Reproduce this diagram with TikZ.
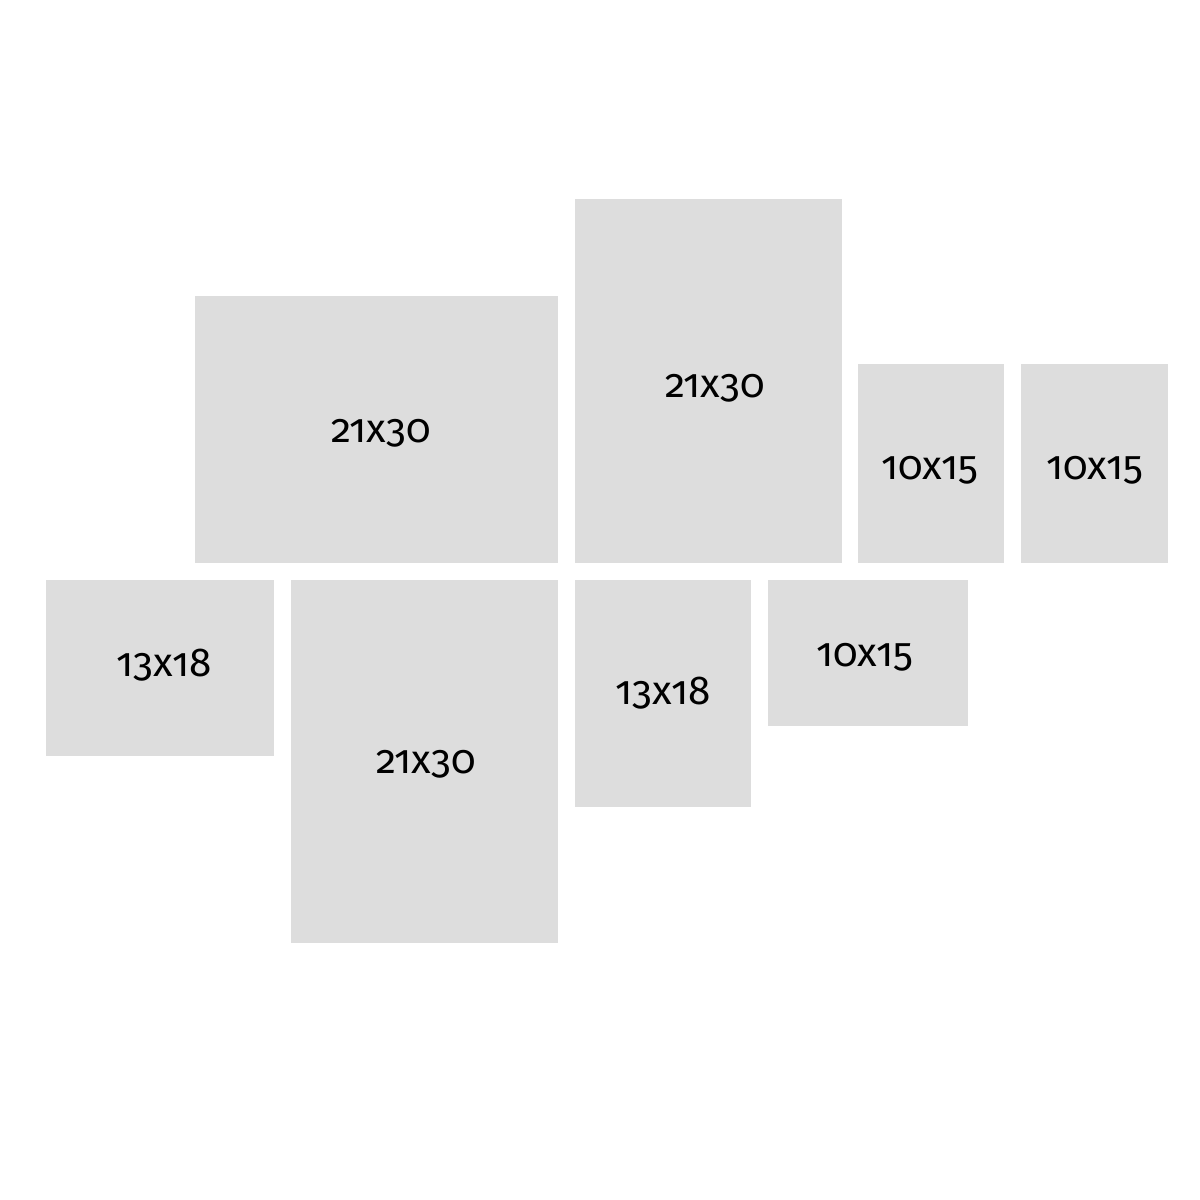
\documentclass[tikz,border=0pt]{standalone}
\usepackage{fontspec}
\setmainfont{Fira Sans}[Numbers=OldStyle]
\definecolor{printgray}{RGB}{221,221,221}

\tikzset{%
  print/.style={
    fill=printgray,
    draw=none
  },
  size label/.style={
    font=\fontsize{11.5}{13}\selectfont,
    inner sep=0pt
  },
}

\begin{document}
\begin{tikzpicture}[x=0.01cm,y=-0.01cm]
\useasboundingbox (0,0) rectangle (1200,1200);
% top row
\fill[print] (195,296) rectangle (558,563);
\node[size label] (topleft) at (381,433) {21x30};
\fill[print] (575,199) rectangle (842,563);
\node[size label] (topmid) at (715,388) {21x30};
\fill[print] (858,364) rectangle (1004,563);
\node[size label] (smallone) at (930,470) {10x15};
\fill[print] (1021,364) rectangle (1168,563);
\node[size label] (smalltwo) at (1095,470) {10x15};
% bottom row
\fill[print] (46,580) rectangle (274,756);
\node[size label] (midleft) at (164,665) {13x18};
\fill[print] (291,580) rectangle (558,943);
\node[size label] (bottombig) at (426,764) {21x30};
\fill[print] (575,580) rectangle (751,807);
\node[size label] (midmid) at (663,693) {13x18};
\fill[print] (768,580) rectangle (968,726);
\node[size label] (smallthree) at (865,657) {10x15};
\end{tikzpicture}
\end{document}
